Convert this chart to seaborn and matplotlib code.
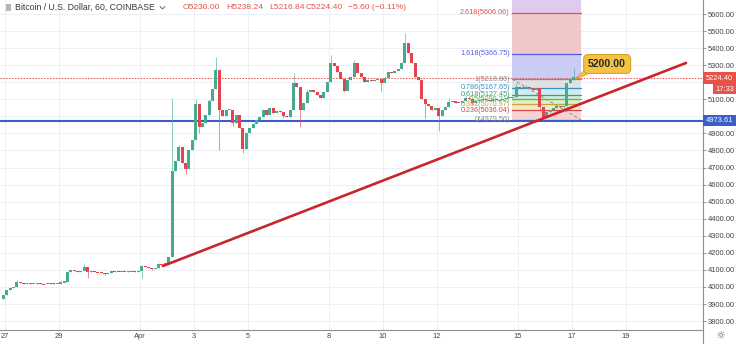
import numpy as np
import pandas as pd
import matplotlib
matplotlib.use("Agg")
import matplotlib.pyplot as plt
import seaborn as sns
from matplotlib.patches import Rectangle, Polygon
from matplotlib.lines import Line2D

# ---------------- data ----------------
start_day = -0.125      # days since Mar 27 00:00 (first 3h candle)
step_day = 0.125        # 3-hour candles
first_open = 3930.0
closes = [
    3950, 3985, 3995, 4000, 4030, 4025, 4018, 4022, 4015, 4020,
    4025, 4018, 4015, 4020, 4022, 4018, 4020, 4028, 4030, 4085,
    4100, 4092, 4088, 4095, 4115, 4090, 4092, 4088, 4085, 4080,
    4076, 4082, 4094, 4090, 4086, 4090, 4088, 4092, 4094, 4090,
    4095, 4125, 4118, 4110, 4105, 4112, 4135, 4128, 4140, 4175,
    4680, 4740, 4820, 4727, 4690, 4800, 4861, 5070, 4940, 4960,
    5010, 5090, 5160, 5270, 5040, 5000, 5035, 5040, 4960, 5010,
    4930, 4810, 4900, 4930, 4955, 4980, 4996, 5040, 5010, 5049,
    5020, 5030, 5026, 5005, 4995, 5040, 5195, 5172, 5040, 5080,
    5145, 5155, 5140, 5125, 5108, 5140, 5200, 5313, 5295, 5260,
    5220, 5150, 5213, 5230, 5310, 5255, 5230, 5201, 5213, 5205,
    5213, 5218, 5195, 5225, 5260, 5254, 5265, 5275, 5310, 5430,
    5370, 5313, 5231, 5213, 5100, 5075, 5060, 5040, 5050, 5000,
    5040, 5055, 5085, 5092, 5080, 5078, 5090, 5108, 5100, 5078,
    5090, 5096, 5100, 5094, 5090, 5100, 5095, 5096, 5100, 5108,
    5110, 5115, 5172, 5168, 5170, 5174, 5166, 5155, 5166, 5055,
    4995, 5026, 5040, 5049, 5060, 5055, 5060, 5195, 5213, 5230,
    5224.40,
]
wick_high = {0: 3955, 4: 4042, 17: 4035, 24: 4135, 41: 4130, 46: 4142, 50: 5110,
             52: 4830, 57: 5100, 61: 5100, 63: 5348, 86: 5254, 90: 5160,
             97: 5360, 104: 5330, 113: 5235, 119: 5489, 132: 5105, 137: 5118,
             152: 5195, 155: 5185, 169: 5283, 170: 5238.24}
wick_low = {0: 3928, 19: 4060, 25: 4050, 30: 4068, 41: 4050, 44: 4098, 54: 4660,
            58: 4900, 64: 4803, 68: 4945, 71: 4785, 83: 4990, 88: 4937,
            101: 5140, 112: 5150, 125: 4990, 129: 4914, 139: 5068, 159: 5040,
            160: 4972, 166: 5045, 170: 5216.84}

date_tick_days = [0, 2, 5, 7, 9, 12, 14, 16, 19, 21, 23]
date_tick_labels = ["27", "29", "Apr", "3", "5", "8", "10", "12", "15", "17", "19"]
price_ticks = list(range(3800, 5700, 100))
hidden_price_labels = [5000, 5200]   # covered by the price-scale boxes

support_price = 4973.61
last_price = 5224.40
trend_days = [5.85, 25.22]
trend_prices = [4123, 5313]

fib_names = ["0", "0.236", "0.382", "0.5", "0.618", "0.786", "1", "1.618", "2.618", "3.618"]
fib_prices = [4979.56, 5036.04, 5070.97, 5099.21, 5127.45, 5167.65, 5218.86, 5366.75, 5606.06, 5845.36]
fib_days = [18.78, 21.33]
callout_text = "5200.00"

# ---------------- style ----------------
sns.set_theme(style="white")
plt.rcParams["font.family"] = ["Liberation Sans", "DejaVu Sans"]

W, H = 736, 344
fig = plt.figure(figsize=(W / 100, H / 100), dpi=100)
fig.patch.set_facecolor("white")
ax_bottom_px = 329.7
ax_right_px = 703
ax = fig.add_axes([0, 1 - ax_bottom_px / H, ax_right_px / W, ax_bottom_px / H])
ax.set_facecolor("white")
ax.set_xlim(-0.185, 25.85)
ax.set_ylim(3749.4, 5682.1)

# grid
for d in date_tick_days:
    ax.axvline(d, color="#eceff5", lw=0.7, zorder=0)
for p in price_ticks:
    ax.axhline(p, color="#eceff5", lw=0.7, zorder=0)

# fib fills
fib_fill = ["#f6d3d3", "#f5e6c4", "#dcefcb", "#d2ecd9", "#d2ebf1",
            "#e1e1e4", "#c9cdf3", "#efc9c9", "#e0caef"]
fib_line = ["#8a8a8a", "#d04b4b", "#c9a23a", "#5fb35a", "#3aa07a",
            "#3a8fc2", "#8a8a8a", "#5a5ae0", "#e05050", "#a040c0"]
for k in range(len(fib_prices) - 1):
    ax.fill_between(fib_days, fib_prices[k], fib_prices[k + 1],
                    color=fib_fill[k], lw=0, zorder=1)
for k, (nm, p) in enumerate(zip(fib_names, fib_prices)):
    ax.plot(fib_days, [p, p], color=fib_line[k], lw=0.9, zorder=1.5)
    if p < 5680:
        ax.text(fib_days[0] - 0.08, p, f"{nm}({p:.2f})", ha="right", va="center",
                fontsize=5.2, color=fib_line[k], zorder=6)
ax.plot([fib_days[0], fib_days[1]], [fib_prices[6], fib_prices[0]],
        color="#999999", lw=0.8, ls=(0, (3, 2)), zorder=2)

# support & last price lines
ax.axhline(support_price, color="#3a5fc8", lw=1.5, zorder=2.5)
ax.axhline(last_price, color="#e5534b", lw=0.7, ls=(0, (1.5, 1.5)), zorder=2.5)

# candles
n = len(closes)
df = pd.DataFrame({"t": [start_day + step_day * (i + 0.5) for i in range(n)],
                   "close": closes})
df["open"] = [first_open] + closes[:-1]
df["high"] = [wick_high.get(i, max(df["open"][i], df["close"][i])) for i in range(n)]
df["low"] = [wick_low.get(i, min(df["open"][i], df["close"][i])) for i in range(n)]
up_c, dn_c = "#45ab8e", "#e4444f"
colors = [up_c if c >= o else dn_c for o, c in zip(df["open"], df["close"])]
ax.vlines(df["t"], df["low"], df["high"], colors=colors, lw=0.6, alpha=0.7, zorder=3)
body_h = (df["close"] - df["open"]).abs().clip(lower=6.0)
body_b = df[["open", "close"]].min(axis=1) - (body_h - (df["close"] - df["open"]).abs()) / 2
ax.bar(df["t"], body_h, bottom=body_b, width=0.112, color=colors, lw=0, zorder=3.2)

# trend line
sns.lineplot(x=trend_days, y=trend_prices, ax=ax, color="#c8262e", lw=1.9, zorder=4)

# callout
ax.add_patch(Polygon([(21.45, 5270), (21.78, 5262), (21.12, 5218)], closed=True,
                     fc="#f5c343", ec="#d9a22a", lw=0.6, zorder=7))
ax.text(22.3, 5307, callout_text, ha="center", va="center", fontsize=7.6,
        fontweight="bold", color="#2a2a2a", zorder=8,
        bbox=dict(boxstyle="round,pad=0.42", fc="#f5c343", ec="#d9a22a", lw=0.8))

# axes
ax.yaxis.tick_right()
ax.set_yticks(price_ticks)
ax.set_yticklabels(["" if p in hidden_price_labels else f"{p:.2f}" for p in price_ticks])
ax.tick_params(axis="y", length=2.2, width=0.6, color="#8a8a8a", labelsize=5.4,
               labelcolor="#444444", pad=1.5, right=True, left=False)
ax.set_xticks(date_tick_days)
ax.set_xticklabels(date_tick_labels)
ax.tick_params(axis="x", length=0, labelsize=5.4, labelcolor="#444444", pad=2.6)
for s in ["left", "top"]:
    ax.spines[s].set_visible(False)
for s in ["bottom", "right"]:
    ax.spines[s].set_color("#8f8f8f")
    ax.spines[s].set_linewidth(0.8)
ax.grid(False)
fig.add_artist(Line2D([ax_right_px / W] * 2, [0, 1 - ax_bottom_px / H],
                      transform=fig.transFigure, color="#8f8f8f", lw=0.8))


def py_of(price):
    return 14 + (5600 - price) * 0.1706


def px_label(x0, x1, yc, h, fc, text, fs=5.4):
    fig.add_artist(Rectangle((x0 / W, 1 - (yc + h / 2) / H), (x1 - x0) / W, h / H,
                             transform=fig.transFigure, fc=fc, ec="none", zorder=10))
    fig.text((x0 + x1) / 2 / W, 1 - yc / H, text, ha="center", va="center",
             fontsize=fs, color="white", zorder=11)


px_label(703, 736, py_of(last_price), 11.5, "#e5534b", f"{last_price:.2f}")
px_label(713, 736, py_of(last_price) + 11, 10, "#e5534b", "17:33")
px_label(703, 736, py_of(support_price), 11, "#3a5fc8", f"{support_price:.2f}")

# header
fig.add_artist(Rectangle((6 / W, 1 - 11 / H), 5 / W, 7 / H, transform=fig.transFigure,
                         fc="#b5b5b5", ec="none"))
fig.text(15 / W, 1 - 7.5 / H, "Bitcoin / U.S. Dollar, 60, COINBASE", fontsize=6.3,
         color="#3c3c3c", va="center", ha="left")
fig.add_artist(Line2D([160 / W, 162.5 / W, 165 / W], [1 - 6.5 / H, 1 - 9 / H, 1 - 6.5 / H],
                      transform=fig.transFigure, color="#555555", lw=0.6))
ohlc_x = [183, 226, 269, 306, 348]
ohlc_txt = ["O5230.00", "H5238.24", "L5216.84", "C5224.40", "\u22125.60 (\u22120.11%)"]
for xx, tt in zip(ohlc_x, ohlc_txt):
    fig.text(xx / W, 1 - 7.5 / H, tt, fontsize=6.1, color="#e0534d", va="center", ha="left")

fig.text(720 / W, 1 - 336 / H, "\u263c", fontsize=8, color="#666666", ha="center",
         va="center", family="DejaVu Sans")

fig.savefig("out.png", dpi=100)
